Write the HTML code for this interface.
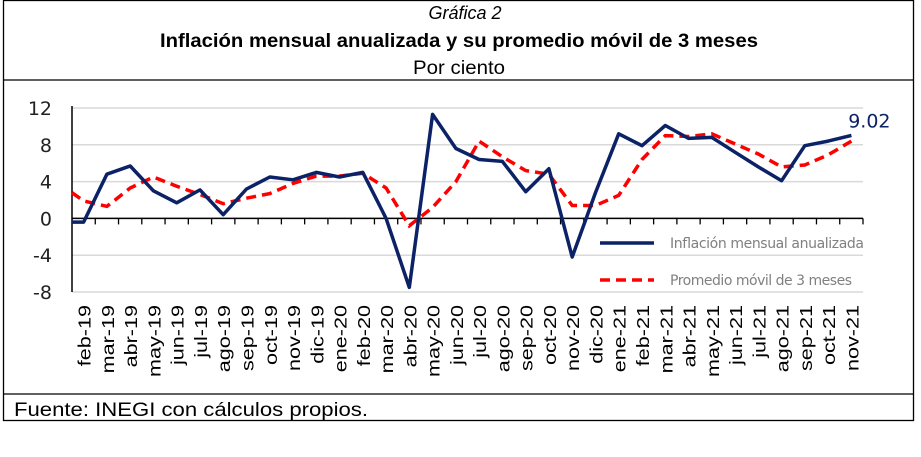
<!DOCTYPE html>
<html><head><meta charset="utf-8"><style>
body{margin:0;background:#fff;width:921px;height:452px;overflow:hidden;font-family:"Liberation Sans",sans-serif}
</style></head><body>
<svg width="921" height="452" xmlns="http://www.w3.org/2000/svg">
<rect x="3.5" y="0.5" width="910" height="420" fill="none" stroke="#000" stroke-width="1.3"/>
<line x1="3" y1="80" x2="914" y2="80" stroke="#000" stroke-width="1.3"/>
<line x1="3" y1="394" x2="914" y2="394" stroke="#000" stroke-width="1.3"/>
<text x="465" y="19" text-anchor="middle" font-size="18" font-style="italic">Gráfica 2</text>
<text x="459" y="47" text-anchor="middle" font-size="19" font-weight="bold" textLength="598" lengthAdjust="spacingAndGlyphs">Inflación mensual anualizada y su promedio móvil de 3 meses</text>
<text x="459" y="74" text-anchor="middle" font-size="19" textLength="92" lengthAdjust="spacingAndGlyphs">Por ciento</text>
<text x="14" y="416" font-size="19" textLength="354" lengthAdjust="spacingAndGlyphs">Fuente: INEGI con cálculos propios.</text>
<g id="plot"></g>
<g>
<line x1="600" y1="243" x2="654" y2="243" stroke="#0b2266" stroke-width="3.5"/>
<text x="670" y="248" font-size="14" fill="#808080" font-family="DejaVu Sans,sans-serif" textLength="194">Inflación mensual anualizada</text>
<line x1="600" y1="280" x2="654" y2="280" stroke="#ff0000" stroke-width="3.5" stroke-dasharray="10,6"/>
<text x="670" y="285" font-size="14" fill="#808080" font-family="DejaVu Sans,sans-serif" textLength="182">Promedio móvil de 3 meses</text>
</g>
</svg>
<script>
const categories=["feb-19","mar-19","abr-19","may-19","jun-19","jul-19","ago-19","sep-19","oct-19","nov-19","dic-19","ene-20","feb-20","mar-20","abr-20","may-20","jun-20","jul-20","ago-20","sep-20","oct-20","nov-20","dic-20","ene-21","feb-21","mar-21","abr-21","may-21","jun-21","jul-21","ago-21","sep-21","oct-21","nov-21"];
const monthly=[-0.4,4.8,5.7,3.0,1.7,3.1,0.4,3.2,4.5,4.2,5.0,4.5,5.0,0.0,-7.5,11.3,7.6,6.4,6.2,2.9,5.4,-4.2,2.8,9.2,7.9,10.1,8.7,8.8,7.2,5.6,4.1,7.9,8.4,9.02];
const average=[1.9,1.3,3.3,4.5,3.5,2.6,1.6,2.2,2.7,3.8,4.6,4.6,4.9,3.3,-0.8,1.2,4.0,8.4,6.7,5.2,4.8,1.4,1.4,2.5,6.4,9.0,8.9,9.2,8.1,7.0,5.6,5.8,6.9,8.4];
const monthlyEdge=-0.4, averageEdge=2.8;
const yTicks=[12,8,4,0,-4,-8];
const lastLabel="9.02";
const NS="http://www.w3.org/2000/svg";
const g=document.getElementById('plot');
const x0=72,x1=863,yTop=108,yBot=292,yMax=12,yMin=-8;
const bw=(x1-x0)/categories.length;
const xs=i=>x0+(i+0.5)*bw;
const ys=v=>yTop+(yMax-v)/(yMax-yMin)*(yBot-yTop);
function mk(t,a){const e=document.createElementNS(NS,t);for(const k in a)e.setAttribute(k,a[k]);g.appendChild(e);return e;}
yTicks.forEach(v=>{
 const l=mk('line',{x1:x0,x2:x1,y1:ys(v),y2:ys(v),stroke:'#d9d9d9','stroke-width':1.5});
 
 
 const t=mk('text',{x:52,y:ys(v)+7,'text-anchor':'end','font-size':19,'font-family':'DejaVu Sans,sans-serif',fill:'#222'});
 t.textContent=v;
 
 
});
const ya=mk('line',{x1:x0,x2:x0,y1:yTop-2,y2:yBot,stroke:'#000','stroke-width':1.5});


const xa=mk('line',{x1:x0,x2:x1,y1:ys(0),y2:ys(0),stroke:'#000','stroke-width':1.5});


for(let i=1;i<=categories.length;i++){
 const tk=mk('line',{x1:x0+i*bw,x2:x0+i*bw,y1:ys(0),y2:ys(0)+6,stroke:'#000','stroke-width':1.3});
 
 
}
categories.forEach((c,i)=>{
 const t=mk('text',{x:0,y:0,'text-anchor':'end','font-size':16,transform:`translate(${xs(i)+7},305) rotate(-90) scale(1.35,1.12)`});
 t.textContent=c;
 
 
});
function path(vals,edge){let d=`M${x0},${ys(edge)}`;vals.forEach((v,i)=>d+=` L${xs(i).toFixed(1)},${ys(v).toFixed(1)}`);return d;}
const pa=mk('path',{d:path(average,averageEdge),fill:'none',stroke:'#ff0000','stroke-width':3.5,'stroke-dasharray':'10,6'});


const pm=mk('path',{d:path(monthly,monthlyEdge),fill:'none',stroke:'#0b2266','stroke-width':3.5,'stroke-linejoin':'round'});


const n=monthly.length-1;
const dl=mk('text',{x:xs(n)+18,y:ys(monthly[n])-8,'text-anchor':'middle','font-size':19,'font-family':'DejaVu Sans,sans-serif',fill:'#0b2266'});
dl.textContent=lastLabel;


</script>
</body></html>
